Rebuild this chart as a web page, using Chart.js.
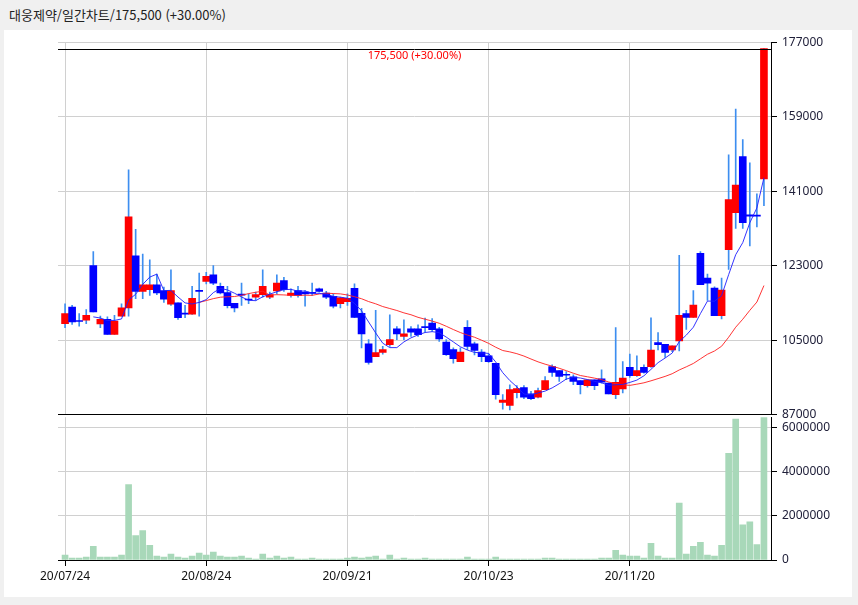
<!DOCTYPE html>
<html lang="ko">
<head>
<meta charset="UTF-8">
<title>대웅제약 일간차트</title>
<script src="https://cdn.jsdelivr.net/npm/chart.js"></script>
<style>
  body { margin: 0; background: #f0f0f0; width: 858px; height: 605px; position: relative; overflow: hidden; }
  #title { position: absolute; left: 9px; top: 5px; font: 13px "Noto Sans CJK KR", "Noto Sans", sans-serif; color: #222; }
  #panel { position: absolute; left: 4px; top: 30px; width: 848px; height: 567px; background: #fff; }
  canvas { position: absolute; left: 0; }
  #price { top: 30px; }
  #volume { top: 405px; }
</style>
</head>
<body>
<div id="title"></div>
<div id="panel"></div>
<canvas id="price" width="858" height="400"></canvas>
<canvas id="volume" width="858" height="200"></canvas>
<script>
const stockName = '대웅제약';
const period = '일간차트';

const dates = [
  '20/07/24','20/07/27','20/07/28','20/07/29','20/07/30','20/07/31',
  '20/08/03','20/08/04','20/08/05','20/08/06','20/08/07',
  '20/08/10','20/08/11','20/08/12','20/08/13','20/08/14',
  '20/08/18','20/08/19','20/08/20','20/08/21',
  '20/08/24','20/08/25','20/08/26','20/08/27','20/08/28',
  '20/08/31','20/09/01','20/09/02','20/09/03','20/09/04',
  '20/09/07','20/09/08','20/09/09','20/09/10','20/09/11',
  '20/09/14','20/09/15','20/09/16','20/09/17','20/09/18',
  '20/09/21','20/09/22','20/09/23','20/09/24','20/09/25',
  '20/09/28','20/09/29','20/10/05','20/10/06','20/10/07','20/10/08',
  '20/10/12','20/10/13','20/10/14','20/10/15','20/10/16',
  '20/10/19','20/10/20','20/10/21','20/10/22','20/10/23',
  '20/10/26','20/10/27','20/10/28','20/10/29','20/10/30',
  '20/11/02','20/11/03','20/11/04','20/11/05','20/11/06',
  '20/11/09','20/11/10','20/11/11','20/11/12','20/11/13',
  '20/11/16','20/11/17','20/11/18','20/11/19','20/11/20',
  '20/11/23','20/11/24','20/11/25','20/11/26','20/11/27',
  '20/11/30','20/12/01','20/12/02','20/12/03','20/12/04',
  '20/12/07','20/12/08','20/12/09','20/12/10','20/12/11',
  '20/12/14','20/12/15','20/12/16','20/12/17'
];

const open = [
  109000,113000,109700,109800,123000,108900,110000,106400,110800,112800,
  125400,116800,117200,118400,117000,113700,114000,111500,111300,117000,
  119200,120800,118000,116500,113900,116100,114900,115400,116000,115400,
  116900,119400,115800,117000,116600,116500,117400,116400,115600,113800,
  114300,117500,111500,104100,101000,102000,103900,107700,105900,107700,
  107700,108200,109100,107700,104500,102700,99800,108100,104100,102100,
  101200,99400,89900,89200,92300,93500,92000,91200,93000,98600,
  97600,96700,96100,95200,94000,95400,95600,94600,91800,93200,
  98400,96400,98400,98600,104400,104000,102600,104800,111400,110500,
  126000,120000,117600,110900,126900,135800,149400,135300,135000,144000
];
const high = [
  113800,113400,111400,112400,126400,110800,110600,111000,113800,146200,
  131800,125800,124400,121000,117800,122000,114000,113400,118000,121200,
  121400,123000,118800,118000,113900,118800,116200,116600,122000,116600,
  120800,120200,117400,118000,117000,118800,117600,116800,116200,115400,
  116200,118600,112700,105100,112200,103500,111100,108300,109900,108300,
  108700,110300,110200,108100,105100,103100,103100,109700,104500,102700,
  101700,99400,91800,94200,94000,94000,92600,93400,96200,99000,
  97600,97400,96600,95200,95400,95400,97800,94600,108000,99800,
  101600,101200,99000,110400,106800,104000,103600,125500,112200,117000,
  126400,121000,117900,120000,149800,160900,153500,147900,140400,175500
];
const low = [
  108000,108800,108400,109000,111800,108000,106400,106400,110800,110800,
  115000,115000,115800,116000,114100,113400,110000,110400,111200,110800,
  118600,118400,116200,112800,111800,113400,113800,114600,115400,115000,
  116200,116800,115400,115400,113200,115800,116600,115000,112800,112800,
  113400,110400,103100,99200,101000,101600,103500,105100,105100,105900,
  105900,106900,107100,104700,101300,99400,99800,102700,101400,99800,
  99600,90700,88300,88100,91000,90800,90600,91000,93000,96200,
  95000,95400,94200,92000,93600,93000,94600,92000,90800,92200,
  96000,96200,97000,98400,102600,100800,102200,102400,107600,110500,
  118400,114600,110900,110100,122100,132000,132000,127800,132400,137500
];
const close = [
  111400,109400,109500,111000,111800,110000,106400,109600,112800,134800,
  116800,118400,118400,116400,114900,117000,110400,111300,115100,116800,
  120400,118800,116400,113300,112800,115900,114700,116000,118000,116000,
  118800,117200,116400,115800,116200,116300,116800,115400,113200,115200,
  115100,110500,106500,99600,102000,102700,105100,106500,106500,106900,
  106300,108000,107500,105300,101500,100500,102100,103500,102500,101000,
  99800,91800,90500,93000,93300,91200,90800,92800,95200,97200,
  96200,96500,95000,94200,95400,94000,94800,92000,94800,95800,
  96400,97600,97200,102600,103900,102000,103600,111000,110500,113500,
  118400,118800,110900,117100,139000,142500,133400,135000,135000,175500
];
const volume = [
  220000,90000,90000,130000,620000,130000,130000,130000,220000,3420000,
  1110000,1330000,670000,180000,130000,270000,130000,90000,180000,310000,
  220000,360000,180000,130000,130000,180000,90000,40000,270000,90000,
  180000,90000,130000,40000,40000,90000,40000,40000,40000,40000,
  90000,130000,90000,130000,180000,40000,220000,40000,90000,40000,
  40000,90000,40000,40000,40000,40000,40000,130000,40000,40000,
  40000,130000,40000,40000,40000,40000,40000,40000,90000,90000,
  40000,40000,40000,40000,40000,40000,90000,90000,440000,220000,
  180000,180000,90000,760000,180000,90000,90000,2580000,270000,620000,
  800000,220000,180000,670000,4840000,6400000,1600000,1730000,700000,6480000
];

const tickDates = ['20/07/24', '20/08/24', '20/09/21', '20/10/23', '20/11/20'];
const priceTicks = [87000, 105000, 123000, 141000, 159000, 177000];
const volTicks = [0, 2000000, 4000000, 6000000];

const UP = '#ff0000', DOWN = '#0000ff', WICK = '#3d8ef0', GRID = '#d0d0d0';
const tickIdx = tickDates.map(d => dates.indexOf(d));

// 5일, 20일 이동평균 (종가 기준)
function movingAvg(n) {
  const out = [];
  for (let i = n - 1; i < close.length; i++) {
    let s = 0;
    for (let j = i - n + 1; j <= i; j++) s += close[j];
    out.push({ x: i, y: s / n });
  }
  return out;
}

const fmt = v => v.toLocaleString('en-US');
const last = close.length - 1;
const pct = (close[last] - close[last - 1]) / close[last - 1] * 100;
document.getElementById('title').textContent =
  stockName + '/' + period + '/' + fmt(close[last]) + ' (' + (pct >= 0 ? '+' : '') + pct.toFixed(2) + '%)';

const hiVal = Math.max(...high);
const hiIdx = high.indexOf(hiVal);
const hiPct = (hiVal - close[hiIdx - 1]) / close[hiIdx - 1] * 100;
const hiLabel = fmt(hiVal) + ' (' + (hiPct >= 0 ? '+' : '') + hiPct.toFixed(2) + '%)';

const maxLine = {
  id: 'maxLine',
  afterDatasetsDraw(chart) {
    const { ctx, chartArea, scales } = chart;
    const y = Math.round(scales.y.getPixelForValue(hiVal)) + 0.5;
    ctx.save();
    ctx.strokeStyle = '#000';
    ctx.lineWidth = 1;
    ctx.beginPath();
    ctx.moveTo(chartArea.left, y);
    ctx.lineTo(chartArea.right, y);
    ctx.stroke();
    ctx.fillStyle = '#ff0000';
    ctx.font = '11px "Noto Sans"';
    ctx.textAlign = 'center';
    ctx.textBaseline = 'top';
    ctx.fillText(hiLabel, (chartArea.left + chartArea.right) / 2, y + 1);
    ctx.restore();
  }
};

const tickFont = { family: 'Noto Sans', size: 12 };

const rightAxis = (ticks, extra) => Object.assign({
  position: 'right',
  min: ticks[0],
  afterBuildTicks: s => { s.ticks = ticks.map(v => ({ value: v })); },
  grid: { color: GRID, tickColor: '#000', tickLength: 6 },
  border: { color: '#000' },
  ticks: { color: '#20203a', font: tickFont, padding: 5, callback: v => String(v) },
  afterFit: s => { s.width = 87; }
}, extra);

const bottomAxis = extra => Object.assign({
  type: 'linear',
  min: -1,
  max: dates.length,
  offset: false,
  afterBuildTicks: s => { s.ticks = tickIdx.map(v => ({ value: v })); }
}, extra);

new Chart(document.getElementById('price'), {
  type: 'bar',
  data: {
    datasets: [
      { type: 'line', data: movingAvg(5), borderColor: 'rgba(30,30,255,0.9)', borderWidth: 1, pointRadius: 0, order: 0 },
      { type: 'line', data: movingAvg(20), borderColor: 'rgba(255,30,30,0.9)', borderWidth: 1, pointRadius: 0, order: 0 },
      {
        data: close.map((c, i) => ({ x: i, y: [open[i], c] })),
        backgroundColor: close.map((c, i) => c > open[i] ? UP : DOWN),
        barThickness: 7, minBarLength: 1, grouped: false, order: 1
      },
      {
        data: high.map((h, i) => ({ x: i, y: [low[i], h] })),
        backgroundColor: WICK, barThickness: 1, grouped: false, order: 2
      }
    ]
  },
  options: {
    responsive: false,
    animation: false,
    events: [],
    layout: { padding: { left: 58, right: 0, top: 12.5, bottom: 15.5 } },
    plugins: { legend: { display: false }, tooltip: { enabled: false } },
    scales: {
      x: bottomAxis({
        grid: { color: GRID, drawTicks: false, offset: false },
        border: { color: '#000' },
        ticks: { display: false },
        afterFit: s => { s.height = 0; }
      }),
      y: rightAxis(priceTicks, { max: priceTicks[priceTicks.length - 1] })
    }
  },
  plugins: [maxLine]
});

new Chart(document.getElementById('volume'), {
  type: 'bar',
  data: {
    datasets: [{
      data: volume.map((v, i) => ({ x: i, y: v })),
      backgroundColor: '#a8d8b9',
      barThickness: 6
    }]
  },
  options: {
    responsive: false,
    animation: false,
    events: [],
    layout: { padding: { left: 58, right: 0, top: 9.5, bottom: 5 } },
    plugins: { legend: { display: false }, tooltip: { enabled: false } },
    scales: {
      x: bottomAxis({
        grid: { color: GRID, tickColor: '#000', tickLength: 6, offset: false },
        border: { color: '#000' },
        ticks: { color: '#111', font: tickFont, padding: 3, maxRotation: 0, autoSkip: false, callback: v => dates[v] },
        afterFit: s => { s.height = 40; }
      }),
      y: rightAxis(volTicks, { max: Math.max(...volume) })
    }
  }
});
</script>
</body>
</html>
